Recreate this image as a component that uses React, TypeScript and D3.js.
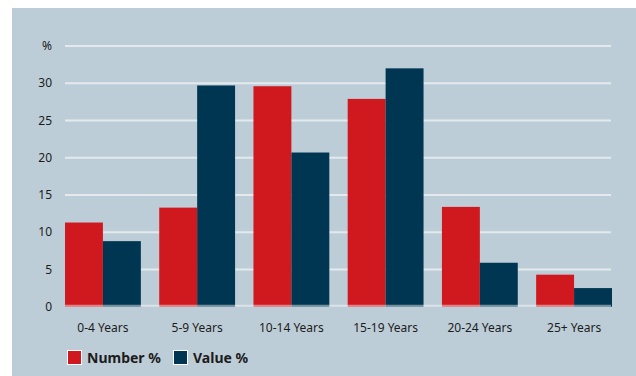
import React from "react";
import * as d3 from "d3";

const categories = ["0-4 Years", "5-9 Years", "10-14 Years", "15-19 Years", "20-24 Years", "25+ Years"];
const numberPct = [11.3, 13.3, 29.6, 27.9, 13.4, 4.3];
const valuePct = [8.8, 29.7, 20.7, 32.0, 5.9, 2.5];
const seriesNames = ["Number %", "Value %"];
const yTicks = [0, 5, 10, 15, 20, 25, 30];
const yTopLabel = "%";

const W = 636;
const H = 376;
const RED = "#d0191f";
const NAVY = "#003651";
const BG = "#bdcdd7";
const GRID = "#e3e9ed";
const TEXT = "#1c1c1c";
const FONT = "'Noto Sans', 'Open Sans', sans-serif";

export default function App() {
  const x = d3.scaleBand<string>().domain(categories).range([65, 612]).paddingInner(0.195).paddingOuter(0);
  const x1 = d3.scaleBand<string>().domain(seriesNames).range([0, x.bandwidth()]).padding(0);
  const y = d3.scaleLinear().domain([0, 35]).range([306.7, 46]);
  const colors = [RED, NAVY];
  const series = [numberPct, valuePct];

  return (
    <div style={{ position: "absolute", left: 0, top: 0 }}>
      <svg width={W} height={H} style={{ display: "block" }}>
        <rect x={0} y={0} width={W} height={H} fill="#ffffff" />
        <rect x={12} y={8} width={W - 12} height={H - 8} fill={BG} />
        {[...yTicks.filter((t) => t > 0), 35].map((t) => (
          <line key={t} x1={65} x2={611} y1={y(t)} y2={y(t)} stroke={GRID} strokeWidth={2} />
        ))}
        {series.map((vals, si) =>
          vals.map((v, i) => (
            <rect
              key={`${si}-${i}`}
              x={(x(categories[i]) as number) + (x1(seriesNames[si]) as number)}
              y={y(v)}
              width={x1.bandwidth()}
              height={y(0) - y(v)}
              fill={colors[si]}
            />
          ))
        )}
        <line x1={65} x2={611} y1={y(0) - 1} y2={y(0) - 1} stroke="#ffffff" strokeOpacity={0.45} strokeWidth={2} />
        {yTicks.map((t) => (
          <text key={t} x={52} y={y(t)} dy="0.35em" textAnchor="end" fontSize={12} fontFamily={FONT} fill={TEXT}>
            {t}
          </text>
        ))}
        <text x={52} y={y(35)} dy="0.35em" textAnchor="end" fontSize={12} fontFamily={FONT} fill={TEXT}>
          {yTopLabel}
        </text>
        {categories.map((c) => (
          <text key={c} x={(x(c) as number) + x.bandwidth() / 2} y={332} textAnchor="middle" fontSize={12} fontFamily={FONT} fill={TEXT}>
            {c}
          </text>
        ))}
        {seriesNames.map((s, i) => {
          const lx = i === 0 ? 67 : 173;
          return (
            <g key={s}>
              <rect x={lx + 0.5} y={350.5} width={14} height={14} fill={colors[i]} stroke="#ffffff" strokeWidth={1} />
              <text x={lx + 20} y={362.5} fontSize={14} fontWeight="bold" fontFamily={FONT} fill={TEXT}>
                {s}
              </text>
            </g>
          );
        })}
      </svg>
    </div>
  );
}
